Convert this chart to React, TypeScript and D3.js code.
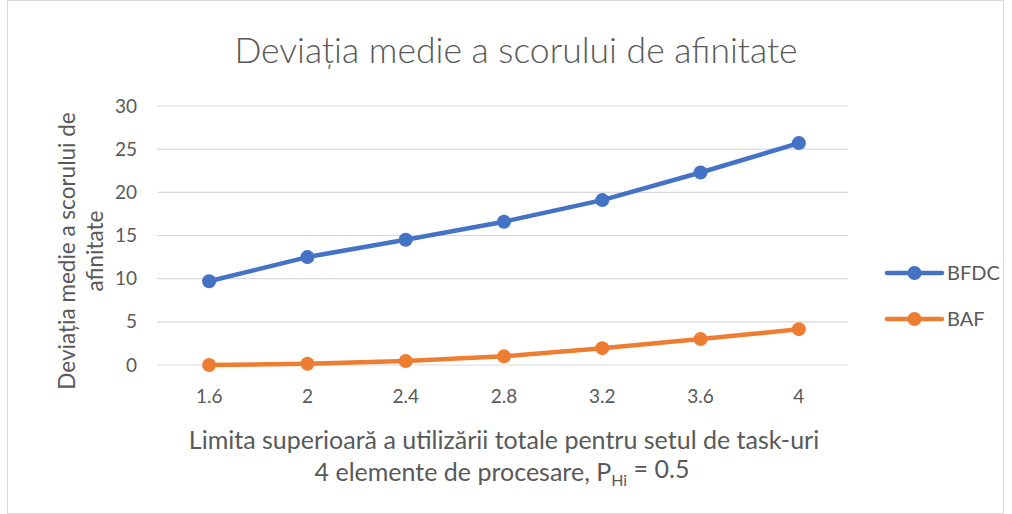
import React, { useEffect, useRef } from 'react';
import * as d3 from 'd3';

const categories = ['1.6', '2', '2.4', '2.8', '3.2', '3.6', '4'];
const bfdc = [9.7, 12.5, 14.5, 16.6, 19.1, 22.3, 25.7];
const baf = [0.0, 0.15, 0.45, 1.0, 1.95, 3.0, 4.15];
const yTicks = [0, 5, 10, 15, 20, 25, 30];

const series = [
  { name: 'BFDC', values: bfdc, color: '#4472C4' },
  { name: 'BAF', values: baf, color: '#ED7D31' },
];

const W = 1012;
const H = 514;
const FONT = 'Lato, "Open Sans", sans-serif';

export default function App() {
  const svgRef = useRef<SVGSVGElement>(null);

  useEffect(() => {
    const svg = d3.select(svgRef.current);
    svg.selectAll('*').remove();

    const margin = { top: 106, right: 164, bottom: 149, left: 160 };
    const innerW = W - margin.left - margin.right;
    const innerH = H - margin.top - margin.bottom;

    // borda exterior
    svg.append('rect').attr('x', 7.5).attr('y', 0.5).attr('width', W - 16).attr('height', H - 1)
      .attr('fill', '#fff').attr('stroke', '#d9d9d9');

    const g = svg.append('g').attr('transform', `translate(${margin.left},${margin.top})`);

    const x = d3.scaleBand().domain(categories).range([0, innerW]);
    const y = d3.scaleLinear().domain([0, 30]).range([innerH, 0]);
    const cx = (c: string) => (x(c) as number) + x.bandwidth() / 2;

    // grid
    g.selectAll('.grid').data(yTicks).enter().append('line')
      .attr('x1', -3).attr('x2', innerW)
      .attr('y1', d => y(d)).attr('y2', d => y(d))
      .attr('stroke', '#d9d9d9').attr('stroke-width', 1.2);

    // y tick labels
    g.selectAll('.ytick').data(yTicks).enter().append('text')
      .attr('x', -23).attr('y', d => y(d)).attr('dy', '0.35em')
      .attr('text-anchor', 'end').attr('fill', '#595959')
      .style('font-family', FONT).style('font-size', '19px')
      .text(d => d);

    // x tick labels
    g.selectAll('.xtick').data(categories).enter().append('text')
      .attr('x', d => cx(d)).attr('y', innerH + 38)
      .attr('text-anchor', 'middle').attr('fill', '#595959')
      .style('font-family', FONT).style('font-size', '19px')
      .text(d => d);

    const line = d3.line<number>().x((_, i) => cx(categories[i])).y(d => y(d));

    series.forEach(s => {
      g.append('path').datum(s.values).attr('d', line)
        .attr('fill', 'none').attr('stroke', s.color).attr('stroke-width', 4.5)
        .attr('stroke-linejoin', 'round').attr('stroke-linecap', 'round');
      g.selectAll(null).data(s.values).enter().append('circle')
        .attr('cx', (_, i) => cx(categories[i])).attr('cy', d => y(d))
        .attr('r', 7).attr('fill', s.color);
    });

    // title
    svg.append('text').attr('x', 516).attr('y', 63).attr('text-anchor', 'middle')
      .attr('fill', '#595959').style('font-family', FONT).style('font-size', '35.5px').style('font-weight', 300)
      .text('Deviația medie a scorului de afinitate');

    // y axis title
    const yt = svg.append('text').attr('transform', 'translate(82,251) rotate(-90)')
      .attr('text-anchor', 'middle').attr('fill', '#595959')
      .style('font-family', FONT).style('font-size', '22.5px');
    yt.append('tspan').attr('x', 0).attr('dy', '-0.3em').text('Deviația medie a scorului de');
    yt.append('tspan').attr('x', 0).attr('dy', '1.25em').text('afinitate');

    // x axis title
    svg.append('text').attr('x', 504).attr('y', 449).attr('text-anchor', 'middle')
      .attr('fill', '#595959').style('font-family', FONT).style('font-size', '25px')
      .text('Limita superioară a utilizării totale pentru setul de task-uri');
    const xt2 = svg.append('text').attr('x', 502).attr('y', 481).attr('text-anchor', 'middle')
      .attr('fill', '#595959').style('font-family', FONT).style('font-size', '25px');
    xt2.append('tspan').text('4 elemente de procesare, P');
    xt2.append('tspan').attr('dy', '0.3em').style('font-size', '16px').text('Hi');
    xt2.append('tspan').attr('dy', '-0.3em').text(' = 0.5');

    // legend
    const leg = svg.append('g').attr('transform', 'translate(887,273)');
    series.forEach((s, i) => {
      const row = leg.append('g').attr('transform', `translate(0,${i * 46})`);
      row.append('line').attr('x1', 0).attr('x2', 55).attr('stroke', s.color)
        .attr('stroke-width', 4.5).attr('stroke-linecap', 'round');
      row.append('circle').attr('cx', 27.5).attr('r', 7).attr('fill', s.color);
      row.append('text').attr('x', 60).attr('dy', '0.35em').attr('fill', '#595959')
        .style('font-family', FONT).style('font-size', '20px').text(s.name);
    });
  }, []);

  return (
    <svg ref={svgRef} width={W} height={H}
      style={{ position: 'absolute', left: 0, top: 0, background: '#fff' }} />
  );
}
